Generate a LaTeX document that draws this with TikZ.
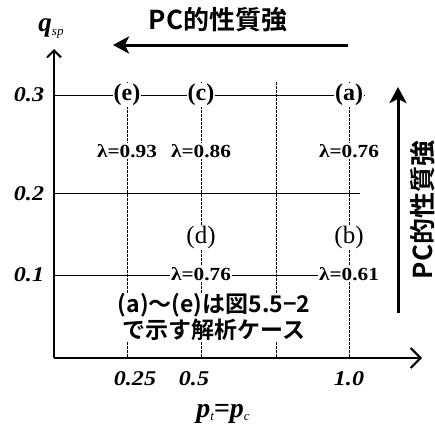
\documentclass[tikz,border=0pt]{standalone}
\usepackage{fontspec}
\setmainfont{Liberation Serif}
\newfontfamily\wideserif[FakeStretch=1.15]{Liberation Serif}
\newfontfamily\jp{Noto Sans CJK JP Bold}
\usetikzlibrary{arrows.meta}
\begin{document}
\begin{tikzpicture}[x=1pt,y=-1pt,
 hline/.style={line width=1pt},
 vline/.style={line width=1pt, dash pattern=on 3pt off 1pt},
 yaxis/.style={line width=2pt, -{Straight Barb[length=7pt,width=14pt,line width=2pt]}},
 xaxis/.style={line width=2pt, -{Straight Barb[length=10pt,width=20pt,line width=2pt]}},
 bigarrow/.style={line width=3pt,-{Stealth[length=16pt,width=17pt,inset=4pt]}},
 case/.style={fill=white, inner sep=1pt, font=\fontsize{25}{25}\selectfont},
 casebold/.style={case, font=\fontsize{24}{24}\selectfont\bfseries},
 lam/.style={fill=white, inner sep=1pt, font=\fontsize{18.5}{18.5}\wideserif\bfseries},
 ytick/.style={font=\fontsize{21}{21}\wideserif\bfseries\itshape},
 xtick/.style={font=\fontsize{21}{21}\wideserif\bfseries\itshape},
 axtitle/.style={inner sep=0pt, anchor=base},
 jptext/.style={font=\fontsize{26}{26}\selectfont\jp, inner sep=0pt},
 jpnote/.style={font=\fontsize{23}{22}\selectfont\jp, align=center, inner sep=1pt, fill=white}]
\path[use as bounding box] (0,0) rectangle (435,428);
% coordinates
\coordinate (O) at (54,358);
\coordinate (ytop) at (54,49);
\coordinate (xend) at (422,358);
\coordinate (h3a) at (54,95);  \coordinate (h3b) at (365,95);
\coordinate (h2a) at (54,193); \coordinate (h2b) at (360,193);
\coordinate (h1a) at (54,275); \coordinate (h1b) at (375,275);
\foreach \n/\x in {v1/127,v2/201,v3/276,v4/349}{
  \coordinate (\n t) at (\x,82);
  \coordinate (\n b) at (\x,358);
}
% grid
\draw[hline] (h3a) -- (h3b);
\draw[hline] (h2a) -- (h2b);
\draw[hline] (h1a) -- (h1b);
\foreach \n in {v1,v2,v3,v4}{ \draw[vline] (\n t) -- (\n b); }
% axes
\draw[yaxis] (O) -- (ytop);
\draw[xaxis] (O) -- (xend);
% case labels
\node[casebold] (e) at (127,95) {(e)};
\node[casebold] (c) at (201,95) {(c)};
\node[casebold] (a) at (349,95) {(a)};
\node[case] (d) at (201,237) {(d)};
\node[case] (b) at (349,237) {(b)};
\node[lam] (le) at (127,151) {λ=0.93};
\node[lam] (lc) at (201,151) {λ=0.86};
\node[lam] (la) at (349,151) {λ=0.76};
\node[lam] (ld) at (201,274) {λ=0.76};
\node[lam] (lb) at (349,274) {λ=0.61};
% ticks
\node[ytick] (t3) at (29,95) {0.3};
\node[ytick] (t2) at (29,194) {0.2};
\node[ytick] (t1) at (29,275) {0.1};
\node[xtick] (x25) at (135,379) {0.25};
\node[xtick] (x5) at (194,379) {0.5};
\node[xtick] (x10) at (349,379) {1.0};
% axis titles
\node[axtitle] (qsp) at (51,32) {\fontsize{27}{27}\selectfont\bfseries\itshape q\raisebox{-3pt}{\fontsize{13}{13}\selectfont\mdseries sp}};
\node[axtitle] (ptpc) at (223,417) {\fontsize{28}{28}\selectfont\bfseries\itshape p\raisebox{-3pt}{\fontsize{13}{13}\selectfont\mdseries t}=p\raisebox{-3pt}{\fontsize{13}{13}\selectfont\mdseries c}};
% PC arrows
\node[jptext] (top) at (218,20) {PC的性質強};
\coordinate (ta1) at (348,45); \coordinate (ta2) at (113,45);
\draw[bigarrow] (ta1) -- (ta2);
\coordinate (ra1) at (398,313); \coordinate (ra2) at (398,87);
\draw[bigarrow] (ra1) -- (ra2);
\node[jptext, rotate=90] (rt) at (423,210) {PC的性質強};
% note
\node[jpnote] (note) at (214,317) {(a)〜(e)は図5.5−2\\で示す解析ケース};
\end{tikzpicture}
\end{document}
